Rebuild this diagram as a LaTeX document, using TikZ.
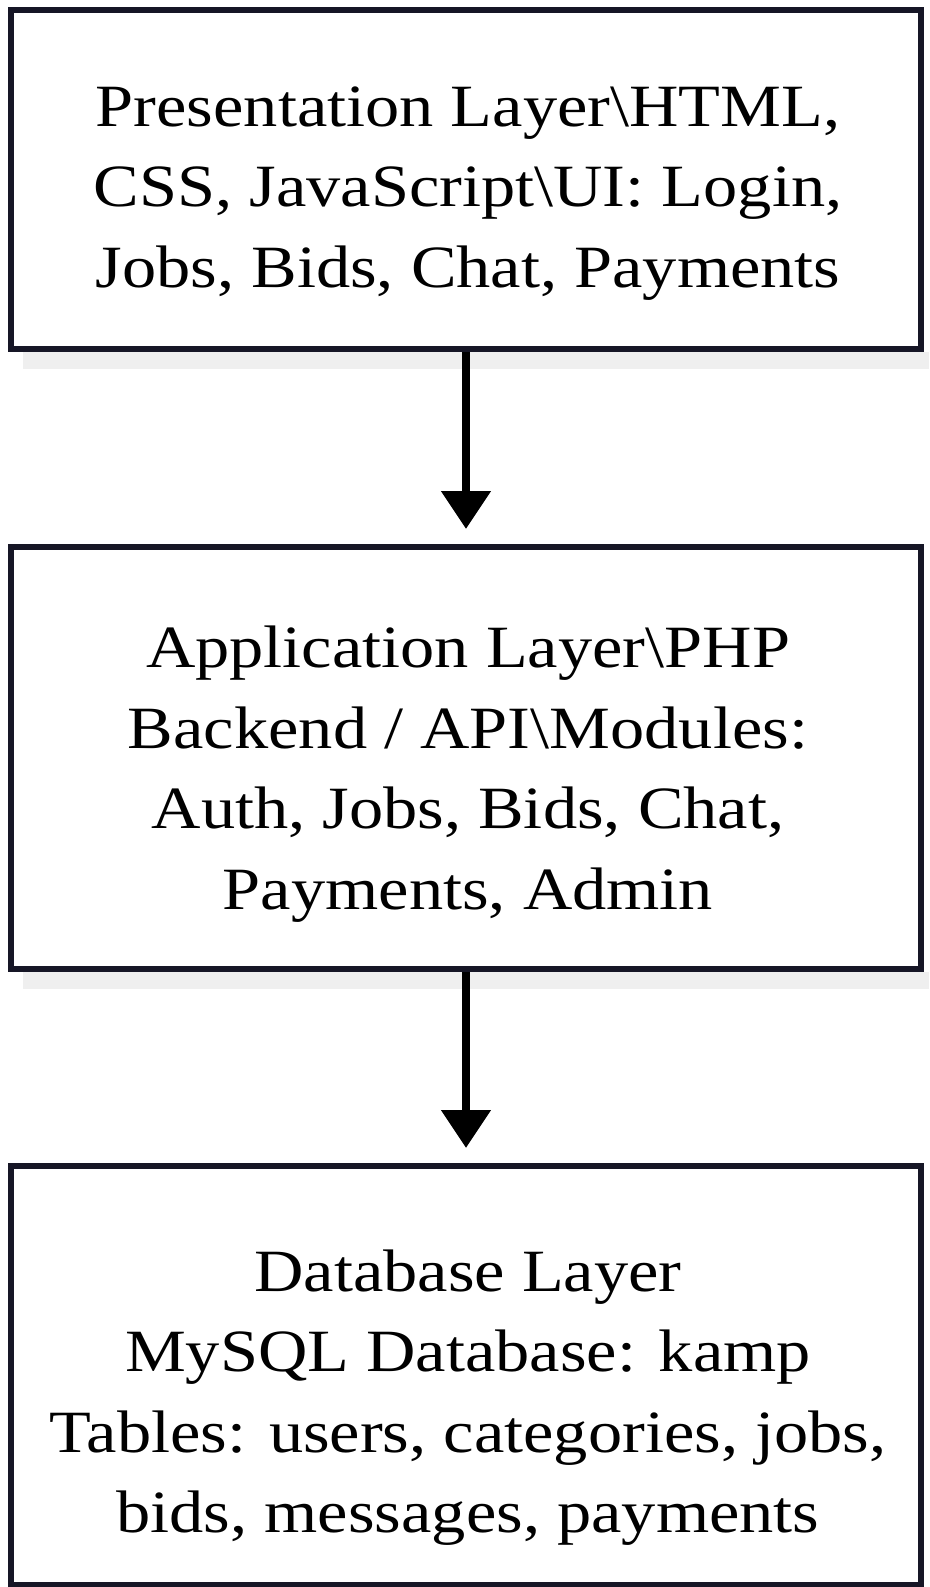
\documentclass[tikz,border=0pt]{standalone}
\usepackage{fontspec}
\setmainfont{Liberation Serif}[FakeStretch=1.14]
\usetikzlibrary{arrows.meta}
\definecolor{edge}{RGB}{22,22,38}
\definecolor{shade}{RGB}{239,239,239}
\tikzset{
  layer/.style={draw=edge, line width=6pt, fill=white, inner sep=0pt,
    minimum width=910pt},
  layertext/.style={align=center, inner sep=0pt, font=\fontsize{60}{80.5}\selectfont},
  flow/.style={draw=black, line width=8pt, shorten >=15pt,
    -{Triangle[width=48pt,length=38pt]}},
  shadowbar/.style={fill=shade, draw=none}
}
\begin{document}
\begin{tikzpicture}[x=1pt,y=1pt]
\useasboundingbox (0,0) rectangle (929,-1587);
\clip (0,0) rectangle (929,-1587);
\fill[white] (0,0) rectangle (929,-1587);
% soft shadows under the boxes
\fill[shadowbar] (23,-352) rectangle (929,-369);
\fill[shadowbar] (23,-972) rectangle (929,-989);
\node[layer, minimum height=339pt] (pres) at (466,-179.5) {};
\node[layer, minimum height=422pt] (app) at (466,-758) {};
\node[layer, minimum height=419pt] (db) at (466,-1375.5) {};
\node[layertext] (presT) at ([xshift=2pt,yshift=-14pt]pres.center)
  {Presentation Layer\textbackslash HTML,\\CSS, JavaScript\textbackslash UI: Login,\\Jobs, Bids, Chat, Payments};
\node[layertext] (appT) at ([xshift=2pt,yshift=-16pt]app.center)
  {Application Layer\textbackslash PHP\\Backend / API\textbackslash Modules:\\Auth, Jobs, Bids, Chat,\\Payments, Admin};
\node[layertext] (dbT) at ([xshift=2pt,yshift=-22pt]db.center)
  {Database Layer\\MySQL Database: kamp\\Tables: users, categories, jobs,\\bids, messages, payments};
\draw[flow] (pres.south) -- (app.north);
\draw[flow] (app.south) -- (db.north);
\end{tikzpicture}
\end{document}
